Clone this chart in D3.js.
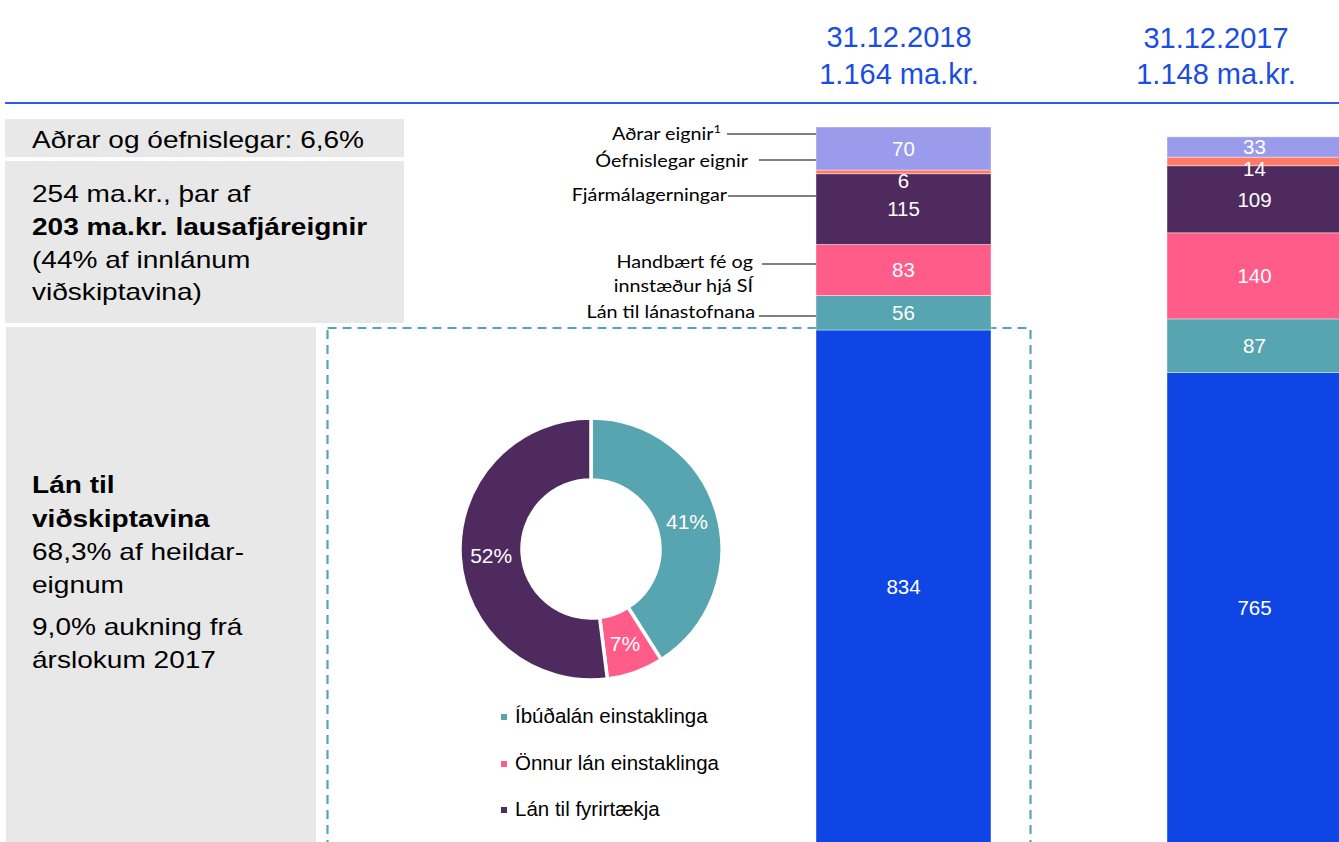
<!DOCTYPE html>
<html><head><meta charset="utf-8">
<script src="https://cdn.jsdelivr.net/npm/d3@7"></script>
<style>
html,body{margin:0;padding:0;background:#fff;}
svg{display:block;}
</style></head>
<body>
<svg id="chart" width="1339" height="842"></svg>
<script>
// ---------- DATA ----------
const periods = ["31.12.2018", "31.12.2017"];
const periodTotals = ["1.164 ma.kr.", "1.148 ma.kr."];
const segmentNames = ["Lán til viðskiptavina", "Lán til lánastofnana", "Handbært fé og innstæður hjá SÍ", "Fjármálagerningar", "Óefnislegar eignir", "Aðrar eignir"];
const values2018 = [834, 56, 83, 115, 6, 70];
const values2017 = [765, 87, 140, 109, 14, 33];
const loanTypes = ["Íbúðalán einstaklinga", "Önnur lán einstaklinga", "Lán til fyrirtækja"];
const loanShares = [41, 7, 52];
const sideBox1 = ["Aðrar og óefnislegar: 6,6%"];
const sideBox2 = [["254 ma.kr., þar af", false], ["203 ma.kr. lausafjáreignir", true], ["(44% af innlánum", false], ["viðskiptavina)", false]];
const sideBox3 = [["Lán til", true], ["viðskiptavina", true], ["68,3% af heildar-", false], ["eignum", false], ["9,0% aukning frá", false], ["árslokum 2017", false]];

// ---------- STYLE ----------
const segColors = ["#0f45e5", "#57a5b0", "#ff5c8a", "#4f2a5e", "#ff7b67", "#9b9beb"];
const loanColors = ["#57a5b0", "#ff5c8a", "#4f2a5e"];
const headBlue = "#1a4de0";
const ARIAL = "'Liberation Sans', Arial, sans-serif";
const CALIBRI = "Lato, 'Open Sans', sans-serif";

const svg = d3.select("#chart");

// ---------- HEADER ----------
const headX = [899, 1216];
periods.forEach((p, i) => {
  svg.append("text").attr("x", headX[i]).attr("y", 47 + i).attr("text-anchor", "middle")
    .attr("font-family", ARIAL).attr("font-size", 29).attr("fill", headBlue).text(p);
  svg.append("text").attr("x", headX[i]).attr("y", 84).attr("text-anchor", "middle")
    .attr("font-family", ARIAL).attr("font-size", 29).attr("fill", headBlue).text(periodTotals[i]);
});
svg.append("line").attr("x1", 5).attr("x2", 1339).attr("y1", 103).attr("y2", 103)
  .attr("stroke", "#2e5be3").attr("stroke-width", 2);

// ---------- LEFT BOXES ----------
svg.append("rect").attr("x", 5).attr("y", 119).attr("width", 399).attr("height", 38).attr("fill", "#e8e8e8");
svg.append("rect").attr("x", 5).attr("y", 161).attr("width", 399).attr("height", 162).attr("fill", "#e8e8e8");
svg.append("rect").attr("x", 6).attr("y", 327).attr("width", 310).attr("height", 520).attr("fill", "#e8e8e8");

const sx = 1.22;
function sideText(lines, ys) {
  const g = svg.append("g").attr("transform", `translate(32,0) scale(${sx},1)`);
  lines.forEach((l, i) => {
    g.append("text").attr("x", 0).attr("y", ys[i])
      .attr("font-family", ARIAL).attr("font-size", 23)
      .attr("font-weight", l[1] ? "bold" : "normal").attr("fill", "#000").text(l[0]);
  });
}
sideText(sideBox1.map(t => [t, false]), [148]);
sideText(sideBox2, [202, 235, 268, 300]);
sideText(sideBox3, [493, 527, 560, 593, 635, 668]);

// ---------- DASHED FRAME ----------
svg.append("rect").attr("x", 327.5).attr("y", 328).attr("width", 703).attr("height", 600)
  .attr("fill", "none").attr("stroke", "#57a5b0").attr("stroke-width", 2.2)
  .attr("stroke-dasharray", "9,6");

// ---------- STACKED BARS ----------
const barWidth = 175;
const x = d3.scalePoint().domain(periods).range([903.5, 1254.5]);
const y = d3.scaleLinear().domain([0, 1164]).range([843, 127]);

const rows = periods.map((p, i) => {
  const vals = i === 0 ? values2018 : values2017;
  const r = { period: p };
  segmentNames.forEach((s, j) => r[s] = vals[j]);
  return r;
});
const series = d3.stack().keys(segmentNames)(rows);

const layers = svg.append("g").selectAll("g").data(series).join("g")
  .attr("fill", (d, i) => segColors[i]);
layers.selectAll("rect").data(d => d).join("rect")
  .attr("x", d => x(d.data.period) - barWidth / 2)
  .attr("width", barWidth)
  .attr("y", d => y(d[1]))
  .attr("height", d => y(d[0]) - y(d[1]))
  .attr("stroke", "#ffffff").attr("stroke-opacity", 0.5).attr("stroke-width", 0.8);

series.forEach((s, i) => {
  s.forEach(d => {
    const top = y(d[1]), bot = y(d[0]);
    const h = bot - top;
    const cy = h < 16 ? top + 11 : (top + bot) / 2;
    svg.append("text").attr("x", x(d.data.period)).attr("y", cy)
      .attr("dy", "0.36em").attr("text-anchor", "middle")
      .attr("font-family", ARIAL).attr("font-size", 20.5).attr("fill", "#fff")
      .text(d.data[s.key]);
  });
});

// ---------- LEADER LABELS (2018 bar) ----------
const barLeft = x(periods[0]) - barWidth / 2;
const leaderLayout = [
  { seg: 5, lines: ["Aðrar eignir"], sup: "1", textEnd: 721, baselines: [140], lineStart: 727, lineY: 134 },
  { seg: 4, lines: ["Óefnislegar eignir"], textEnd: 748, baselines: [167], lineStart: 759, lineY: 160 },
  { seg: 3, lines: ["Fjármálagerningar"], textEnd: 727, baselines: [201], lineStart: 728, lineY: 196 },
  { seg: 2, lines: ["Handbært fé og", "innstæður hjá SÍ"], textEnd: 753, baselines: [268, 292], lineStart: 762, lineY: 264 },
  { seg: 1, lines: ["Lán til lánastofnana"], textEnd: 755, baselines: [318], lineStart: 759, lineY: 316 }
];
leaderLayout.forEach(L => {
  L.lines.forEach((t, k) => {
    const g = svg.append("g").attr("transform", `translate(${L.textEnd},${L.baselines[k]}) scale(1.13,1)`);
    const tx = g.append("text").attr("x", 0).attr("y", 0)
      .attr("text-anchor", "end").attr("font-family", CALIBRI).attr("font-size", 17.5).attr("fill", "#000");
    tx.append("tspan").text(t);
    if (L.sup && k === 0) {
      tx.append("tspan").attr("font-size", 11.5).attr("dy", -7).text(L.sup);
    }
  });
  svg.append("line").attr("x1", L.lineStart).attr("x2", barLeft).attr("y1", L.lineY).attr("y2", L.lineY)
    .attr("stroke", "#555").attr("stroke-width", 1.5);
});

// ---------- DONUT ----------
const cx = 591, cy = 549;
const pie = d3.pie().sort(null).value(d => d)(loanShares);
const arc = d3.arc().innerRadius(69).outerRadius(131);
const dg = svg.append("g").attr("transform", `translate(${cx},${cy})`);
dg.selectAll("path").data(pie).join("path")
  .attr("d", arc).attr("fill", (d, i) => loanColors[i])
  .attr("stroke", "#fff").attr("stroke-width", 3.5);
dg.selectAll("text").data(pie).join("text")
  .attr("transform", d => `translate(${arc.centroid(d)})`)
  .attr("text-anchor", "middle").attr("dy", "0.36em")
  .attr("font-family", ARIAL).attr("font-size", 21).attr("fill", "#fff")
  .text(d => d.data + "%");

// ---------- LEGEND ----------
const legY = [723, 770, 816];
loanTypes.forEach((t, i) => {
  svg.append("rect").attr("x", 501).attr("y", legY[i] - 9).attr("width", 6).attr("height", 6).attr("fill", loanColors[i]);
  svg.append("text").attr("x", 515).attr("y", legY[i]).attr("font-family", ARIAL).attr("font-size", 20.5)
    .attr("fill", "#000").text(t);
});
</script>
</body></html>
